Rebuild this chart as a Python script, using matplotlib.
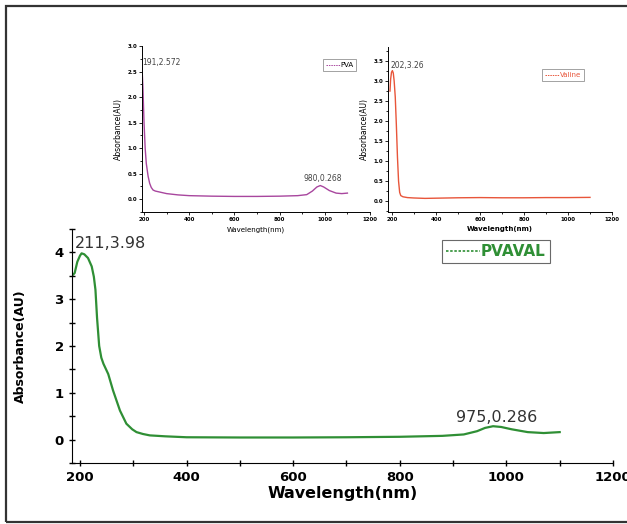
import numpy as np
import matplotlib.pyplot as plt
from matplotlib.patches import Rectangle
from matplotlib.ticker import MultipleLocator

# PVAVAL spectrum (main plot)
pvaval_wl = [185, 190, 195, 200, 203, 208, 215, 222, 226, 229, 232, 236, 240, 244, 253, 262,
             275, 287, 298, 306, 318, 331, 360, 400, 500, 600, 700, 800, 880, 920,
             945, 960, 975, 990, 1010, 1040, 1070, 1100]
pvaval_abs = [3.50, 3.56, 3.80, 3.93, 3.98, 3.96, 3.88, 3.70, 3.48, 3.20, 2.60, 2.00, 1.75,
              1.62, 1.40, 1.05, 0.62, 0.34, 0.22, 0.16, 0.12, 0.09, 0.07, 0.05, 0.045, 0.045,
              0.05, 0.06, 0.08, 0.11, 0.18, 0.25, 0.286, 0.27, 0.22, 0.16, 0.14, 0.16]

# PVA spectrum (inset left)
pva_wl = [191, 195, 200, 205, 210, 218, 225, 232, 240, 250, 270, 300, 350, 400, 500, 600,
          700, 800, 880, 920, 945, 965, 980, 995, 1020, 1050, 1075, 1100]
pva_abs = [2.572, 2.2, 1.5, 1.0, 0.7, 0.45, 0.31, 0.23, 0.18, 0.16, 0.14, 0.11, 0.085, 0.07,
           0.06, 0.055, 0.055, 0.06, 0.07, 0.09, 0.16, 0.24, 0.268, 0.24, 0.17, 0.12,
           0.11, 0.12]

# Valine spectrum (inset right)
val_wl = [191, 194, 198, 202, 206, 210, 215, 220, 225, 230, 235, 240, 250, 270, 300,
          350, 400, 500, 600, 700, 800, 900, 1000, 1100]
val_abs = [2.75, 3.05, 3.22, 3.26, 3.2, 3.0, 2.6, 1.9, 1.1, 0.5, 0.22, 0.14, 0.11, 0.09,
           0.08, 0.07, 0.075, 0.085, 0.09, 0.085, 0.085, 0.09, 0.09, 0.095]

green = "#2f8f35"
purple = "#a8469e"
red = "#e8553a"

fig = plt.figure(figsize=(6.27, 5.24), dpi=100)
fig.patches.append(Rectangle((6 / 627, 2 / 524), 1.0, 516 / 524, transform=fig.transFigure,
                             fill=False, edgecolor="#333333", linewidth=1.6))

# ---- main plot
ax = fig.add_axes([72 / 627, 61 / 524, 541 / 627, 234 / 524])
ax.plot(pvaval_wl, pvaval_abs, color=green, lw=1.6)
ax.set_xlim(185, 1200)
ax.set_ylim(-0.5, 4.5)
ax.spines["top"].set_visible(False)
ax.spines["right"].set_visible(False)
ax.xaxis.set_major_locator(MultipleLocator(200))
ax.xaxis.set_minor_locator(MultipleLocator(100))
ax.yaxis.set_major_locator(MultipleLocator(1))
ax.yaxis.set_minor_locator(MultipleLocator(0.5))
ax.set_yticks([0, 1, 2, 3, 4])
ax.tick_params(which="both", direction="inout", length=5, width=1)
ax.tick_params(which="minor", length=4)
for lab in ax.get_xticklabels() + ax.get_yticklabels():
    lab.set_fontweight("bold")
    lab.set_fontsize(9.5)
ax.set_xlabel("Wavelength(nm)", fontsize=11.5, fontweight="bold", labelpad=1)
ax.set_ylabel("Absorbance(AU)", fontsize=9, fontweight="bold", labelpad=20)
ax.annotate("211,3.98", (190, 4.1), fontsize=11.5, color="#333333")
ax.annotate("975,0.286", (905, 0.37), fontsize=11.5, color="#333333")
leg = ax.legend([plt.Line2D([], [], color=green, ls=(0, (1.5, 1)), lw=1.2)], ["PVAVAL"],
                loc="upper left", bbox_to_anchor=(0.67, 0.985), fancybox=False,
                edgecolor="#444444", prop={"weight": "bold", "size": 11},
                handlelength=2.2, handletextpad=0.1, borderpad=0.25)
leg.get_frame().set_linewidth(0.8)
for t in leg.get_texts():
    t.set_color(green)


def inset(rect, wl, ab, color, xlim, ylim, yticks, label, peak_txt, peak_xy,
          leg_anchor, extra=None, boldx=False):
    a = fig.add_axes(rect)
    a.plot(wl, ab, color=color, lw=1.0)
    a.set_xlim(*xlim)
    a.set_ylim(*ylim)
    a.spines["top"].set_visible(False)
    a.spines["right"].set_visible(False)
    a.set_xticks([200, 400, 600, 800, 1000, 1200])
    a.xaxis.set_minor_locator(MultipleLocator(100))
    a.set_yticks(yticks)
    a.yaxis.set_minor_locator(MultipleLocator(0.25))
    a.tick_params(which="both", direction="out", length=2, width=0.6, labelsize=4,
                  pad=1.5)
    a.tick_params(which="minor", length=1.2)
    for lab in a.get_xticklabels() + a.get_yticklabels():
        lab.set_fontweight("bold")
    for s in ("left", "bottom"):
        a.spines[s].set_linewidth(0.7)
    a.set_xlabel("Wavelength(nm)", fontsize=5, labelpad=3,
                 fontweight="bold" if boldx else "normal")
    a.set_ylabel("Absorbance(AU)", fontsize=5.5, labelpad=3)
    a.annotate(peak_txt, peak_xy, fontsize=5.5, color="#444444")
    if extra:
        a.annotate(extra[0], extra[1], fontsize=5.5, color="#444444")
    lg = a.legend([plt.Line2D([], [], color=color, ls=(0, (1.5, 1)), lw=0.7)], [label],
                  loc="upper right", bbox_to_anchor=leg_anchor,
                  fancybox=False, edgecolor="#777777", prop={"size": 5},
                  handlelength=2.0, handletextpad=0.1, borderpad=0.4)
    lg.get_frame().set_linewidth(0.6)
    if boldx:
        for t in lg.get_texts():
            t.set_color(color)
    return a


inset([142 / 627, 312 / 524, 228 / 627, 166 / 524], pva_wl, pva_abs, purple,
      (191, 1200), (-0.25, 3.0), [0.0, 0.5, 1.0, 1.5, 2.0, 2.5, 3.0], "PVA",
      "191,2.572", (193, 2.62), (0.955, 0.94), extra=("980,0.268", (905, 0.36)))
inset([388 / 627, 312 / 524, 224 / 627, 165 / 524], val_wl, val_abs, red,
      (182, 1200), (-0.27, 3.85), [0.0, 0.5, 1.0, 1.5, 2.0, 2.5, 3.0, 3.5], "Valine",
      "202,3.26", (193, 3.33), (0.89, 0.885), boldx=True)

fig.savefig("out.png", dpi=100)
